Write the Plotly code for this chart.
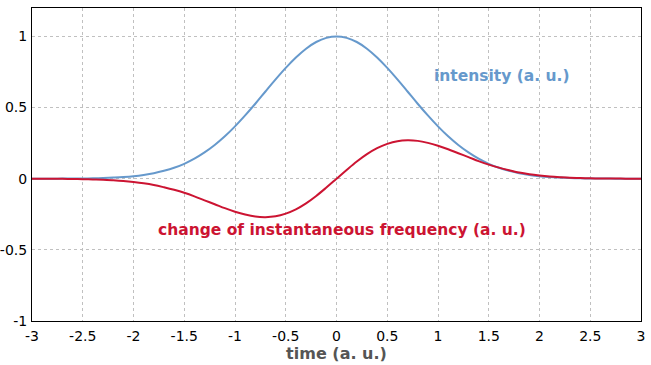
import plotly.graph_objects as go

time = [round(-3 + 0.1 * i, 1) for i in range(61)]

intensity_pos = [1.000, 0.990, 0.961, 0.914, 0.852, 0.779, 0.698, 0.613, 0.527, 0.445,
                 0.368, 0.298, 0.237, 0.185, 0.141, 0.105, 0.077, 0.056, 0.039, 0.027,
                 0.018, 0.012, 0.008, 0.005, 0.003, 0.002, 0.001, 0.001, 0.000, 0.000, 0.000]
freq_pos = [0.000, 0.062, 0.121, 0.173, 0.215, 0.245, 0.264, 0.270, 0.266, 0.252,
            0.232, 0.207, 0.179, 0.152, 0.124, 0.099, 0.078, 0.060, 0.044, 0.032,
            0.023, 0.016, 0.011, 0.007, 0.005, 0.003, 0.002, 0.001, 0.001, 0.000, 0.000]

intensity = intensity_pos[:0:-1] + intensity_pos
freq_change = [-v for v in freq_pos[:0:-1]] + freq_pos

x_ticks = [-3, -2.5, -2, -1.5, -1, -0.5, 0, 0.5, 1, 1.5, 2, 2.5, 3]
x_labels = ["-3", "-2.5", "-2", "-1.5", "-1", "-0.5", "0", "0.5", "1", "1.5", "2", "2.5", "3"]
y_ticks = [-1, -0.5, 0, 0.5, 1]
y_labels = ["-1", "-0.5", "0", "0.5", "1"]

BLUE = "rgb(102,153,204)"
RED = "rgb(204,20,50)"
FONT = "DejaVu Sans"

fig = go.Figure()
fig.add_trace(go.Scatter(x=time, y=intensity, mode="lines",
                         line=dict(color=BLUE, width=2, shape="spline"), showlegend=False))
fig.add_trace(go.Scatter(x=time, y=freq_change, mode="lines",
                         line=dict(color=RED, width=2, shape="spline"), showlegend=False))

fig.add_annotation(x=1.63, y=0.72, text="<b>intensity (a. u.)</b>", showarrow=False,
                   font=dict(family=FONT, size=15.5, color=BLUE))
fig.add_annotation(x=0.05, y=-0.36, text="<b>change of instantaneous frequency (a. u.)</b>",
                   showarrow=False, font=dict(family=FONT, size=15.5, color=RED))

axis_common = dict(showgrid=True, gridcolor="#c0c0c0", griddash="3px,3px", gridwidth=1,
                   zeroline=False, showline=True, linecolor="black", linewidth=1,
                   mirror=True, ticks="", automargin=False,
                   tickfont=dict(family=FONT, size=14, color="black"))

fig.update_xaxes(range=[-3, 3], tickvals=x_ticks, ticktext=x_labels,
                 ticklabeloverflow="allow", ticklabelstandoff=2,
                 title=dict(text="<b>time (a. u.)</b>", font=dict(family=FONT, size=16, color="#555555"),
                            standoff=4),
                 **axis_common)
fig.update_yaxes(range=[-1, 1.2], tickvals=y_ticks, ticktext=y_labels,
                 ticklabeloverflow="allow", ticklabelstandoff=1, **axis_common)

fig.update_layout(width=651, height=365, margin=dict(l=32, r=10, t=8, b=44, autoexpand=False),
                  paper_bgcolor="white", plot_bgcolor="white",
                  font=dict(family=FONT))

fig.write_html("out.html", config={"displayModeBar": False},
               post_script="document.body.style.margin='0';")
